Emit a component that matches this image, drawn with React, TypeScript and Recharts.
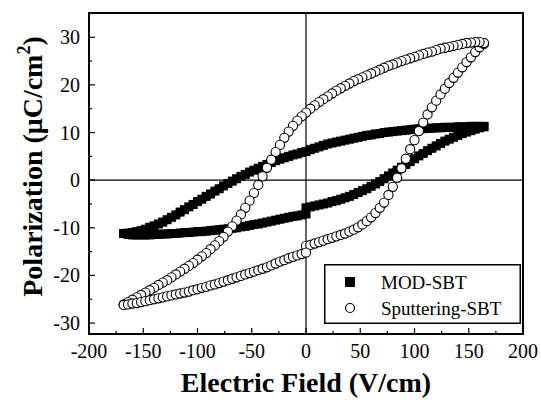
import React from 'react';
import { ScatterChart, Scatter, XAxis, YAxis, ReferenceLine, ReferenceArea, Legend } from 'recharts';

const SERIF = "'Liberation Serif', 'Times New Roman', Times, serif";

const X_MIN = -200;
const X_MAX = 200;
const Y_MIN = -32.3;
const Y_MAX = 35.1;

const xTicks = [-200, -175, -150, -125, -100, -75, -50, -25, 0, 25, 50, 75, 100, 125, 150, 175, 200];
const yTicks = [-30, -25, -20, -15, -10, -5, 0, 5, 10, 15, 20, 25, 30];

const seriesNames = ['MOD-SBT', 'Sputtering-SBT'];

// Electric field grids (V/cm) for the three parts of each loop
const fieldRise = [0, 4, 8, 12, 16, 20, 24, 28, 32, 36, 40, 44, 48, 52, 56, 60, 64, 68, 72, 76, 80, 84, 88, 92, 96, 100, 104, 108, 112, 116, 120, 124, 128, 132, 136, 140, 144, 148, 152, 156, 160, 164];
const fieldFall = [164, 160, 156, 152, 148, 144, 140, 136, 132, 128, 124, 120, 116, 112, 108, 104, 100, 96, 92, 88, 84, 80, 76, 72, 68, 64, 60, 56, 52, 48, 44, 40, 36, 32, 28, 24, 20, 16, 12, 8, 4, 0, -4, -8, -12, -16, -20, -24, -28, -32, -36, -40, -44, -48, -52, -56, -60, -64, -68, -72, -76, -80, -84, -88, -92, -96, -100, -104, -108, -112, -116, -120, -124, -128, -132, -136, -140, -144, -148, -152, -156, -160, -164, -168];
const fieldReturn = [-168, -164, -160, -156, -152, -148, -144, -140, -136, -132, -128, -124, -120, -116, -112, -108, -104, -100, -96, -92, -88, -84, -80, -76, -72, -68, -64, -60, -56, -52, -48, -44, -40, -36, -32, -28, -24, -20, -16, -12, -8, -4, 0];

// MOD-SBT polarization (uC/cm2)
const modRise = [-5.8, -5.6, -5.4, -5.2, -5.0, -4.8, -4.5, -4.3, -4.0, -3.7, -3.4, -3.0, -2.6, -2.2, -1.8, -1.3, -0.8, -0.3, 0.3, 0.9, 1.5, 2.1, 2.7, 3.3, 3.9, 4.5, 5.1, 5.6, 6.2, 6.7, 7.2, 7.7, 8.2, 8.6, 9.0, 9.4, 9.8, 10.1, 10.4, 10.7, 11.0, 11.2];
const modFall = [11.3, 11.3, 11.3, 11.3, 11.2, 11.2, 11.2, 11.1, 11.1, 11.1, 11.0, 11.0, 10.9, 10.9, 10.8, 10.8, 10.7, 10.6, 10.5, 10.4, 10.3, 10.2, 10.1, 10.0, 9.8, 9.7, 9.5, 9.4, 9.2, 9.0, 8.8, 8.6, 8.4, 8.2, 8.0, 7.8, 7.6, 7.3, 7.0, 6.7, 6.4, 6.0, 5.8, 5.5, 5.3, 5.0, 4.7, 4.4, 4.1, 3.7, 3.3, 2.9, 2.5, 2.1, 1.7, 1.2, 0.8, 0.3, -0.2, -0.7, -1.2, -1.8, -2.3, -2.9, -3.4, -4.0, -4.5, -5.1, -5.6, -6.2, -6.7, -7.3, -7.8, -8.3, -8.8, -9.2, -9.6, -9.9, -10.3, -10.6, -10.8, -11.0, -11.1, -11.2];
const modReturn = [-11.2, -11.4, -11.5, -11.5, -11.5, -11.5, -11.5, -11.4, -11.4, -11.3, -11.3, -11.2, -11.2, -11.1, -11.0, -11.0, -10.9, -10.8, -10.8, -10.7, -10.6, -10.5, -10.4, -10.3, -10.2, -10.1, -10.0, -9.8, -9.7, -9.5, -9.3, -9.2, -9.0, -8.8, -8.6, -8.4, -8.2, -8.0, -7.8, -7.6, -7.5, -7.3, -7.1];

// Sputtering-SBT polarization (uC/cm2)
const sputRise = [-13.8, -13.6, -13.3, -13.0, -12.7, -12.4, -12.1, -11.8, -11.5, -11.2, -10.8, -10.4, -9.9, -9.3, -8.6, -7.8, -6.9, -5.8, -4.7, -3.1, -1.4, 0.5, 2.5, 4.5, 6.5, 8.4, 10.3, 12.1, 13.8, 15.3, 16.7, 18.0, 19.2, 20.4, 21.5, 22.6, 23.7, 24.8, 25.8, 26.9, 27.9, 28.6];
const sputFall = [28.8, 29.0, 29.0, 28.9, 28.8, 28.6, 28.4, 28.2, 28.0, 27.8, 27.6, 27.3, 27.0, 26.8, 26.5, 26.2, 25.9, 25.6, 25.3, 25.0, 24.7, 24.3, 24.0, 23.6, 23.2, 22.8, 22.4, 22.0, 21.6, 21.2, 20.8, 20.3, 19.8, 19.3, 18.8, 18.2, 17.6, 17.0, 16.4, 15.7, 15.0, 14.2, 13.4, 12.5, 11.4, 10.2, 8.9, 7.4, 5.9, 4.3, 2.6, 0.8, -1.0, -2.7, -4.3, -5.8, -7.2, -8.5, -9.7, -10.8, -11.9, -12.8, -13.7, -14.5, -15.3, -16.0, -16.7, -17.4, -18.0, -18.6, -19.2, -19.8, -20.4, -21.0, -21.5, -22.0, -22.6, -23.1, -23.6, -24.1, -24.6, -25.1, -25.6, -26.1];
const sputReturn = [-26.2, -26.1, -25.9, -25.8, -25.6, -25.4, -25.2, -25.0, -24.8, -24.6, -24.4, -24.2, -24.0, -23.8, -23.6, -23.4, -23.1, -22.9, -22.6, -22.4, -22.1, -21.9, -21.6, -21.3, -21.0, -20.7, -20.4, -20.1, -19.8, -19.5, -19.2, -18.9, -18.6, -18.3, -17.9, -17.5, -17.1, -16.8, -16.4, -16.1, -15.8, -15.5, -15.2];

const branch = (xs: number[], ys: number[]) =>
  xs.slice(0, Math.min(xs.length, ys.length)).map((x, i) => ({ x, y: ys[i] }));

const modData = [...branch(fieldRise, modRise), ...branch(fieldFall, modFall), ...branch(fieldReturn, modReturn)];
const sputData = [...branch(fieldRise, sputRise), ...branch(fieldFall, sputFall), ...branch(fieldReturn, sputReturn)];

const SquareMark = (props: any) => {
  const { cx, cy } = props;
  if (cx == null || cy == null) return <g />;
  return <rect x={cx - 4.5} y={cy - 4.5} width={9} height={9} fill="#000" />;
};

const CircleMark = (props: any) => {
  const { cx, cy } = props;
  if (cx == null || cy == null) return <g />;
  return <circle cx={cx} cy={cy} r={4.6} fill="#fff" stroke="#000" strokeWidth={1.1} />;
};

const XTick = (props: any) => {
  const { x, y, payload } = props;
  const v = payload.value as number;
  const major = v % 50 === 0;
  return (
    <g>
      <line x1={x} x2={x} y1={y} y2={y - (major ? 6 : 3)} stroke="#000" strokeWidth={1.2} />
      {major && (
        <text x={x} y={y + 24} textAnchor="middle" fontFamily={SERIF} fontSize={20} fill="#000">
          {String(v)}
        </text>
      )}
    </g>
  );
};

const YTick = (props: any) => {
  const { x, y, payload } = props;
  const v = payload.value as number;
  const major = v % 10 === 0;
  return (
    <g>
      <line x1={x} x2={x + (major ? 6 : 3)} y1={y} y2={y} stroke="#000" strokeWidth={1.2} />
      {major && (
        <text x={x - 9} y={y} dy="0.35em" textAnchor="end" fontFamily={SERIF} fontSize={20} fill="#000">
          {String(v)}
        </text>
      )}
    </g>
  );
};

const XTitle = (props: any) => {
  const vb = props.viewBox || { x: 89, y: 334, width: 434, height: 30 };
  return (
    <text x={vb.x + vb.width / 2} y={vb.y + 58} textAnchor="middle" fontFamily={SERIF} fontSize={28} fontWeight="bold" fill="#000">
      Electric Field (V/cm)
    </text>
  );
};

const YTitle = (props: any) => {
  const vb = props.viewBox || { x: 29, y: 13, width: 60, height: 321 };
  const cx = vb.x + 13;
  const cy = vb.y + vb.height / 2 - 7;
  return (
    <text x={cx} y={cy} transform={`rotate(-90, ${cx}, ${cy})`} textAnchor="middle" fontFamily={SERIF} fontSize={28} fontWeight="bold" fill="#000">
      Polarization (μC/cm<tspan dy={-12} fontSize={18}>2</tspan><tspan dy={12}>)</tspan>
    </text>
  );
};

const LegendContent = () => (
  <svg width={197} height={60} style={{ display: 'block' }}>
    <rect x={0.75} y={0.75} width={195.5} height={58.5} fill="#fff" stroke="#000" strokeWidth={1.5} />
    <rect x={21} y={13} width={10} height={10} fill="#000" />
    <text x={57} y={18} dy="0.35em" fontFamily={SERIF} fontSize={19} fill="#000">
      {seriesNames[0]}
    </text>
    <circle cx={26} cy={44} r={4.5} fill="#fff" stroke="#000" strokeWidth={1.2} />
    <text x={57} y={44} dy="0.35em" fontFamily={SERIF} fontSize={19} fill="#000">
      {seriesNames[1]}
    </text>
  </svg>
);

export default function App() {
  return (
    <div style={{ position: 'absolute', left: 0, top: 0, width: 541, height: 405, background: '#fff' }}>
      <ScatterChart width={541} height={405} margin={{ top: 13, right: 18, bottom: 41, left: 29 }}>
        <XAxis
          type="number"
          dataKey="x"
          domain={[X_MIN, X_MAX]}
          allowDataOverflow
          ticks={xTicks}
          interval={0}
          tickSize={0}
          tickMargin={0}
          tickLine={false}
          axisLine={false}
          tick={<XTick />}
          height={30}
          label={{ content: (p: any) => <XTitle {...p} /> }}
        />
        <YAxis
          type="number"
          dataKey="y"
          domain={[Y_MIN, Y_MAX]}
          allowDataOverflow
          ticks={yTicks}
          interval={0}
          tickSize={0}
          tickMargin={0}
          tickLine={false}
          axisLine={false}
          tick={<YTick />}
          width={60}
          label={{ content: (p: any) => <YTitle {...p} /> }}
        />
        <ReferenceLine x={0} stroke="#000" strokeWidth={1.2} />
        <ReferenceLine y={0} stroke="#000" strokeWidth={1.2} />
        <Scatter
          name={seriesNames[0]}
          data={modData}
          shape={SquareMark}
          line={{ stroke: '#000', strokeWidth: 8, strokeLinejoin: 'round' }}
          isAnimationActive={false}
        />
        <Scatter name={seriesNames[1]} data={sputData} shape={CircleMark} isAnimationActive={false} />
        <ReferenceArea x1={X_MIN} x2={X_MAX} y1={Y_MIN} y2={Y_MAX} fill="none" stroke="#000" strokeWidth={2} ifOverflow="visible" />
        <Legend
          layout="vertical"
          align="center"
          verticalAlign="middle"
          content={() => <LegendContent />}
          wrapperStyle={{ left: 324, top: 264, width: 197, height: 60 }}
        />
      </ScatterChart>
    </div>
  );
}
